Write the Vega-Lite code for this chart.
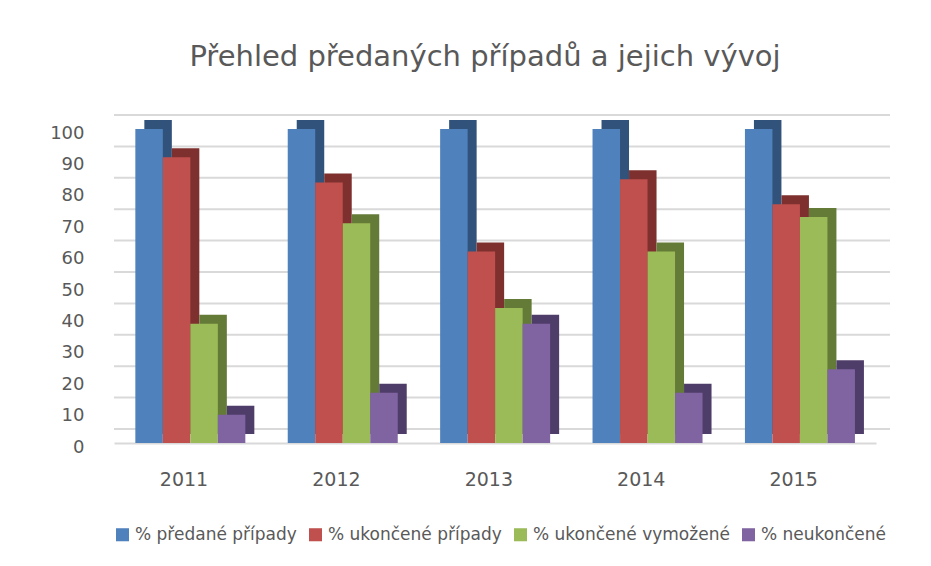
{
  "$schema": "https://vega.github.io/schema/vega-lite/v6.json",
  "autosize": "none",
  "width": 762,
  "height": 314,
  "padding": {"left": 114, "top": 129, "right": 55, "bottom": 123},
  "background": "white",
  "title": {
    "text": "Přehled předaných případů a jejich vývoj",
    "font": "DejaVu Sans",
    "fontSize": 29,
    "fontWeight": "normal",
    "color": "#595959",
    "anchor": "middle",
    "offset": 42,
    "dx": -10
  },
  "datasets": {
    "bars": [
      {"rok": "2011", "serie": "% předané případy", "hodnota": 100},
      {"rok": "2011", "serie": "% ukončené případy", "hodnota": 91},
      {"rok": "2011", "serie": "% ukončené vymožené", "hodnota": 38},
      {"rok": "2011", "serie": "% neukončené", "hodnota": 9},
      {"rok": "2012", "serie": "% předané případy", "hodnota": 100},
      {"rok": "2012", "serie": "% ukončené případy", "hodnota": 83},
      {"rok": "2012", "serie": "% ukončené vymožené", "hodnota": 70},
      {"rok": "2012", "serie": "% neukončené", "hodnota": 16},
      {"rok": "2013", "serie": "% předané případy", "hodnota": 100},
      {"rok": "2013", "serie": "% ukončené případy", "hodnota": 61},
      {"rok": "2013", "serie": "% ukončené vymožené", "hodnota": 43},
      {"rok": "2013", "serie": "% neukončené", "hodnota": 38},
      {"rok": "2014", "serie": "% předané případy", "hodnota": 100},
      {"rok": "2014", "serie": "% ukončené případy", "hodnota": 84},
      {"rok": "2014", "serie": "% ukončené vymožené", "hodnota": 61},
      {"rok": "2014", "serie": "% neukončené", "hodnota": 16},
      {"rok": "2015", "serie": "% předané případy", "hodnota": 100},
      {"rok": "2015", "serie": "% ukončené případy", "hodnota": 76},
      {"rok": "2015", "serie": "% ukončené vymožené", "hodnota": 72},
      {"rok": "2015", "serie": "% neukončené", "hodnota": 23.5}
    ],
    "grid": [
      {"v": 0}, {"v": 10}, {"v": 20}, {"v": 30}, {"v": 40}, {"v": 50},
      {"v": 60}, {"v": 70}, {"v": 80}, {"v": 90}, {"v": 100}
    ]
  },
  "layer": [
    {
      "data": {"name": "grid"},
      "mark": {"type": "rule", "color": "#d9d9d9", "strokeWidth": 2, "xOffset": 14, "yOffset": -14},
      "encoding": {
        "y": {
          "field": "v", "type": "quantitative", "title": null, "scale": {"domain": [0, 100]},
          "axis": {"values": [0, 10, 20, 30, 40, 50, 60, 70, 80, 90, 100], "grid": false, "domain": false, "ticks": false,
                   "labelOverlap": false, "labelFont": "DejaVu Sans", "labelFontSize": 18, "labelColor": "#595959", "labelPadding": 30, "labelOffset": 4}
        }
      }
    },
    {
      "data": {"name": "bars"},
      "mark": {"type": "bar", "yOffset": -9, "y2Offset": -9},
      "encoding": {
        "x": {"field": "rok", "type": "nominal", "scale": {"paddingInner": 0.28, "paddingOuter": 0.14}},
        "xOffset": {"field": "serie", "type": "nominal", "sort": ["% předané případy", "% ukončené případy", "% ukončené vymožené", "% neukončené"],
                    "scale": {"range": [9, 119]}},
        "y": {
          "field": "hodnota", "type": "quantitative", "title": null,
          "axis": {"values": [0, 10, 20, 30, 40, 50, 60, 70, 80, 90, 100], "grid": false, "domain": false, "ticks": false,
                   "labelOverlap": false, "labelFont": "DejaVu Sans", "labelFontSize": 18, "labelColor": "#595959", "labelPadding": 30, "labelOffset": 4}
        },
        "color": {
          "field": "serie", "type": "nominal",
          "scale": {"domain": ["% předané případy", "% ukončené případy", "% ukončené vymožené", "% neukončené"],
                    "range": ["#31527a", "#7d302e", "#647a37", "#4f3d69"]},
          "legend": null
        }
      }
    },
    {
      "data": {"name": "bars"},
      "mark": {"type": "bar"},
      "encoding": {
        "x": {
          "field": "rok", "type": "nominal", "title": null,
          "scale": {"paddingInner": 0.28, "paddingOuter": 0.14},
          "axis": {"labelAngle": 0, "labelFont": "DejaVu Sans", "labelFontSize": 19, "labelColor": "#595959",
                   "labelPadding": 36, "labelOffset": 18, "ticks": false, "domainColor": "#d9d9d9", "domainWidth": 2}
        },
        "xOffset": {"field": "serie", "type": "nominal", "sort": ["% předané případy", "% ukončené případy", "% ukončené vymožené", "% neukončené"],
                    "scale": {"range": [0, 110]}},
        "y": {
          "field": "hodnota", "type": "quantitative", "title": null,
          "scale": {"domain": [0, 100]},
          "axis": {"values": [0, 10, 20, 30, 40, 50, 60, 70, 80, 90, 100], "grid": false, "domain": false, "ticks": false,
                   "labelOverlap": false, "labelFont": "DejaVu Sans", "labelFontSize": 18, "labelColor": "#595959", "labelPadding": 30, "labelOffset": 4}
        },
        "color": {
          "field": "serie", "type": "nominal", "title": null,
          "scale": {"domain": ["% předané případy", "% ukončené případy", "% ukončené vymožené", "% neukončené"],
                    "range": ["#4f81bd", "#c0504d", "#9bbb59", "#8064a2"]},
          "legend": {"orient": "bottom", "direction": "horizontal", "symbolType": "square", "symbolSize": 170,
                     "symbolStrokeWidth": 0, "labelFont": "DejaVu Sans", "labelFontSize": 17, "labelColor": "#595959",
                     "columnPadding": 10, "symbolOffset": 0, "labelLimit": 300, "offset": 37}
        }
      }
    }
  ],
  "resolve": {"scale": {"color": "independent", "xOffset": "independent"}},
  "config": {"view": {"stroke": null}}
}
